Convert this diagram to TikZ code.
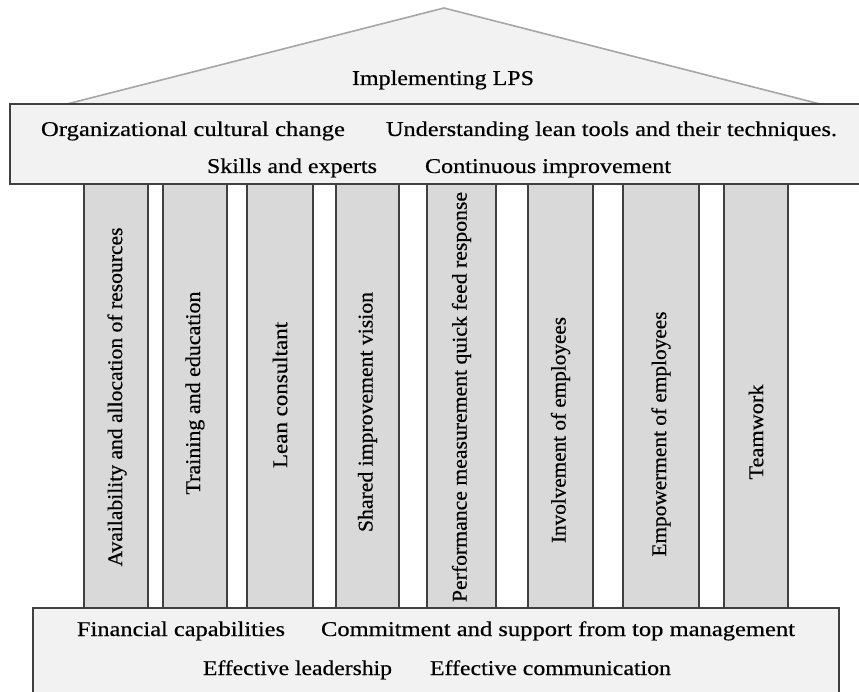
\documentclass[tikz,border=0pt]{standalone}
\usepackage{fontspec}
\setmainfont{Liberation Serif}[FakeBold=0.4]
\usepackage{graphicx}
\definecolor{panel}{HTML}{F2F2F2}
\definecolor{roofgray}{HTML}{A6A6A6}
\definecolor{edge}{HTML}{404040}
\definecolor{pillarfill}{HTML}{D9D9D9}
\newcommand{\fitw}[2]{\resizebox{#1pt}{\height}{#2}}
\begin{document}
\begin{tikzpicture}[x=1pt,y=-1pt,
  roofshape/.style={draw=roofgray,fill=panel,line width=1.6pt,line join=miter},
  slab/.style={draw=edge,fill=panel,line width=1.8pt},
  pillar/.style={draw=edge,fill=pillarfill,line width=1.8pt},
  lbl/.style={font=\fontsize{21}{25}\selectfont,inner sep=0pt,text=black},
  blbl/.style={lbl,anchor=base},
  vlbl/.style={lbl,rotate=90,anchor=center}]
\useasboundingbox (0,0) rectangle (859,692);
\clip (0,0) rectangle (859,692);
\fill[white] (0,0) rectangle (859,692);
% roof
\draw[roofshape] (67,104) -- (444,8) -- (820,104) -- cycle;
% pillars
\draw[pillar] (84,184) rectangle (148,608);
\draw[pillar] (163,184) rectangle (227,608);
\draw[pillar] (247,184) rectangle (313,608);
\draw[pillar] (336,184) rectangle (399,608);
\draw[pillar] (427,184) rectangle (496,608);
\draw[pillar] (528,184) rectangle (593,608);
\draw[pillar] (623,184) rectangle (699,608);
\draw[pillar] (724,184) rectangle (788,608);
% beam and base
\draw[slab] (10,104) rectangle (875,184);
\draw[slab] (33,608) rectangle (839,705);
% roof text
\node[blbl] (roof) at (443,85) {\fitw{182}{Implementing LPS}};
% beam texts
\node[blbl] (b1) at (193,136) {\fitw{304}{Organizational cultural change}};
\node[blbl] (b2) at (611.5,136) {\fitw{451}{Understanding lean tools and their techniques.}};
\node[blbl] (b3) at (292,173) {\fitw{170}{Skills and experts}};
\node[blbl] (b4) at (548,173) {\fitw{246}{Continuous improvement}};
% base texts
\node[blbl] (f1) at (181,636) {\fitw{208}{Financial capabilities}};
\node[blbl] (f2) at (558,636) {\fitw{474}{Commitment and support from top management}};
\node[blbl] (f3) at (297.5,675) {\fitw{189}{Effective leadership}};
\node[blbl] (f4) at (550.5,675) {\fitw{241}{Effective communication}};
% pillar texts
\node[vlbl] (p1) at (117,397) {\fitw{339}{Availability and allocation of resources}};
\node[vlbl] (p2) at (195,393) {\fitw{203}{Training and education}};
\node[vlbl] (p3) at (280,395) {\fitw{146}{Lean consultant}};
\node[vlbl] (p4) at (367.5,412) {\fitw{240}{Shared improvement vision}};
\node[vlbl] (p5) at (461.5,397) {\fitw{410}{Performance measurement quick feed response}};
\node[vlbl] (p6) at (560.5,430) {\fitw{226}{Involvement of employees}};
\node[vlbl] (p7) at (661,434) {\fitw{245}{Empowerment of employees}};
\node[vlbl] (p8) at (756,432) {\fitw{95}{Teamwork}};
\end{tikzpicture}
\end{document}
